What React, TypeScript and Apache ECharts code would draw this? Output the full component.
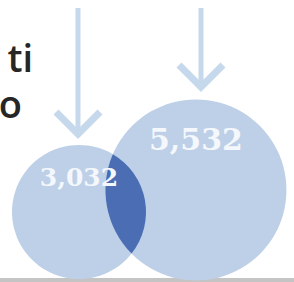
import React, { useEffect, useRef } from "react";
import * as echarts from "echarts";

// ---- data ----
const setNames = ["A", "B"];
const setValues = [3032, 5532];
const setLabels = ["3,032", "5,532"];
const sideText = ["ti", "o"];

// ---- layout / style constants ----
const W = 294;
const H = 282;
const PX_PER_SQRT = 1.2168; // radius = k * sqrt(value)
const CENTER_A = [79, 212];
const CENTER_DIST = 119;
const CENTER_ANGLE = -0.186; // radians from A to B
const LABEL_OFFSET = [0.51, 0.56];
const LABEL_SIZE = [25, 30];
const CIRCLE_COLOR = "#bdd0e7";
const LENS_COLOR = "#4a6db3";
const ARROW_COLOR = "#c6d8eb";

export default function App() {
  const ref = useRef<HTMLDivElement>(null);

  useEffect(() => {
    if (!ref.current) return;
    const chart = echarts.init(ref.current, undefined, { renderer: "svg" });

    const radii = setValues.map((v) => PX_PER_SQRT * Math.sqrt(v));
    const cA = CENTER_A;
    const cB = [
      CENTER_A[0] + CENTER_DIST * Math.cos(CENTER_ANGLE),
      CENTER_A[1] + CENTER_DIST * Math.sin(CENTER_ANGLE),
    ];
    const centers = [cA, cB];

    const renderItem = (params: any, api: any) => {
      const idx = params.dataIndex;
      const r = radii.map((rr, i) => {
        const p0 = api.coord([centers[i][0], centers[i][1]]);
        const p1 = api.coord([centers[i][0] + rr, centers[i][1]]);
        return Math.abs(p1[0] - p0[0]);
      });
      const pc = centers.map((c) => api.coord([c[0], c[1]]));
      const children: any[] = [];
      if (idx === 0) {
        pc.forEach((p, i) => {
          children.push({
            type: "circle",
            shape: { cx: p[0], cy: p[1], r: r[i] },
            style: { fill: CIRCLE_COLOR },
          });
        });
        const dx = pc[1][0] - pc[0][0];
        const dy = pc[1][1] - pc[0][1];
        const d = Math.sqrt(dx * dx + dy * dy);
        const a = (d * d + r[0] * r[0] - r[1] * r[1]) / (2 * d);
        const h = Math.sqrt(Math.max(0, r[0] * r[0] - a * a));
        const ux = dx / d;
        const uy = dy / d;
        const mx = pc[0][0] + a * ux;
        const my = pc[0][1] + a * uy;
        const top = [mx + h * uy, my - h * ux];
        const bot = [mx - h * uy, my + h * ux];
        const pTop = top[1] < bot[1] ? top : bot;
        const pBot = top[1] < bot[1] ? bot : top;
        const pathData =
          `M${pTop[0]},${pTop[1]} ` +
          `A${r[0]},${r[0]} 0 0 1 ${pBot[0]},${pBot[1]} ` +
          `A${r[1]},${r[1]} 0 0 1 ${pTop[0]},${pTop[1]} Z`;
        children.push({
          type: "path",
          shape: { pathData },
          style: { fill: LENS_COLOR },
        });
        pc.forEach((p, i) => {
          children.push({
            type: "text",
            x: p[0],
            y: p[1] - LABEL_OFFSET[i] * r[i],
            style: {
              text: setLabels[i],
              fill: "#f4f7fc",
              fontSize: LABEL_SIZE[i],
              fontWeight: "bold",
              fontFamily: "DejaVu Serif",
              align: "center",
              verticalAlign: "middle",
            },
          });
        });
      }
      return { type: "group", children };
    };

    chart.setOption({
      animation: false,
      backgroundColor: "#ffffff",
      grid: { left: 0, right: 0, top: 0, bottom: 0 },
      xAxis: { type: "value", min: 0, max: W, show: false },
      yAxis: { type: "value", min: 0, max: H, inverse: true, show: false },
      series: [
        {
          type: "custom",
          name: "sets",
          coordinateSystem: "cartesian2d",
          renderItem,
          data: setNames.map((n, i) => ({ name: n, value: [i, setValues[i]] })),
          silent: true,
          clip: false,
        },
      ],
      graphic: [
        {
          type: "line",
          shape: { x1: 78, y1: 8, x2: 78, y2: 133 },
          style: { stroke: ARROW_COLOR, lineWidth: 5 },
        },
        {
          type: "polyline",
          shape: { points: [[56, 112], [78, 134], [100, 112]] },
          style: { stroke: ARROW_COLOR, lineWidth: 7, fill: "none" },
        },
        {
          type: "line",
          shape: { x1: 201, y1: 8, x2: 201, y2: 86 },
          style: { stroke: ARROW_COLOR, lineWidth: 5 },
        },
        {
          type: "polyline",
          shape: { points: [[179, 65], [201, 87], [223, 65]] },
          style: { stroke: ARROW_COLOR, lineWidth: 7, fill: "none" },
        },
        {
          type: "text",
          x: 33,
          y: 38,
          style: {
            text: sideText[0],
            fontSize: 38,
            lineHeight: 38,
            fontFamily: "Open Sans",
            fontWeight: 600,
            fill: "#262626",
            align: "right",
            verticalAlign: "top",
          },
        },
        {
          type: "text",
          x: 22,
          y: 84,
          style: {
            text: sideText[1],
            fontSize: 38,
            lineHeight: 38,
            fontFamily: "Open Sans",
            fontWeight: 600,
            fill: "#262626",
            align: "right",
            verticalAlign: "top",
          },
        },
        {
          type: "rect",
          shape: { x: 0, y: 278, width: W, height: 4 },
          style: { fill: "#c4c4c4" },
        },
      ],
    });

    return () => chart.dispose();
  }, []);

  return (
    <div
      ref={ref}
      style={{ position: "fixed", left: 0, top: 0, width: W, height: H }}
    />
  );
}
